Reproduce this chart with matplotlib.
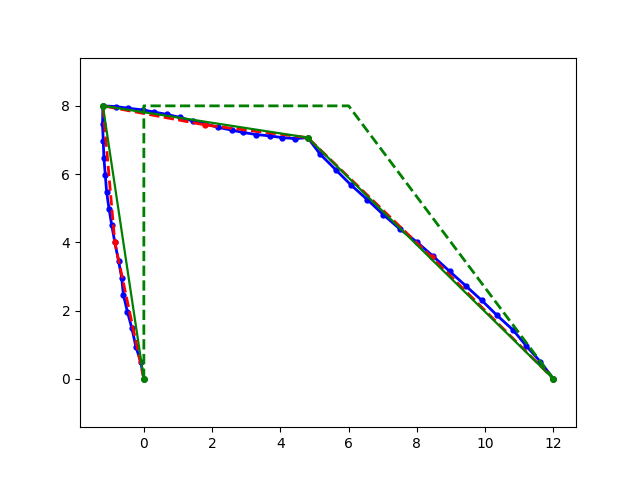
import matplotlib
matplotlib.use('Agg')
import matplotlib.pyplot as plt

# control polygon
ctrl_x = [0, 0, 6, 12]
ctrl_y = [0, 8, 8, 0]

# corner polygon
corner_x = [0, -1.2, 4.8, 12]
corner_y = [0, 8, 7.07, 0]

# coarse approximation (corners + midpoints)
red_x = [0, -0.85, -1.2, 1.8, 4.8, 8.44, 12]
red_y = [0, 4.0, 8, 7.44, 7.07, 3.56, 0]

# fine approximation
blue_x = [0, -0.09, -0.23, -0.35, -0.48, -0.60, -0.65, -0.74, -0.85, -0.94,
          -1.02, -1.09, -1.13, -1.17, -1.19, -1.21, -1.2,
          -0.82, -0.45, -0.02, 0.29, 0.68, 1.06, 1.43, 1.80, 2.18,
          2.57, 2.91, 3.30, 3.69, 4.06, 4.44, 4.8,
          5.16, 5.63, 6.07, 6.55, 7.02, 7.49, 8.00, 8.48,
          8.96, 9.44, 9.90, 10.35, 10.82, 11.21, 11.62, 12]
blue_y = [0, 0.5, 0.93, 1.48, 1.96, 2.47, 2.97, 3.45, 4.0, 4.5,
          4.98, 5.47, 5.98, 6.47, 6.98, 7.47, 8,
          7.98, 7.93, 7.88, 7.82, 7.75, 7.66, 7.56, 7.47, 7.37,
          7.29, 7.22, 7.16, 7.12, 7.07, 7.04, 7.07,
          6.59, 6.12, 5.68, 5.25, 4.81, 4.40, 4.01, 3.59,
          3.15, 2.72, 2.30, 1.86, 1.43, 0.96, 0.50, 0]

fig, ax = plt.subplots(figsize=(6.4, 4.8), dpi=100)

ax.plot(blue_x, blue_y, 'b.-', lw=2, ms=7)
ax.plot(red_x, red_y, 'r.--', lw=2, ms=7)
ax.plot(ctrl_x, ctrl_y, 'g--', lw=2)
ax.plot(corner_x, corner_y, 'g.-', lw=1.6, ms=8)

ax.axis('equal')

fig.savefig('out.png')
